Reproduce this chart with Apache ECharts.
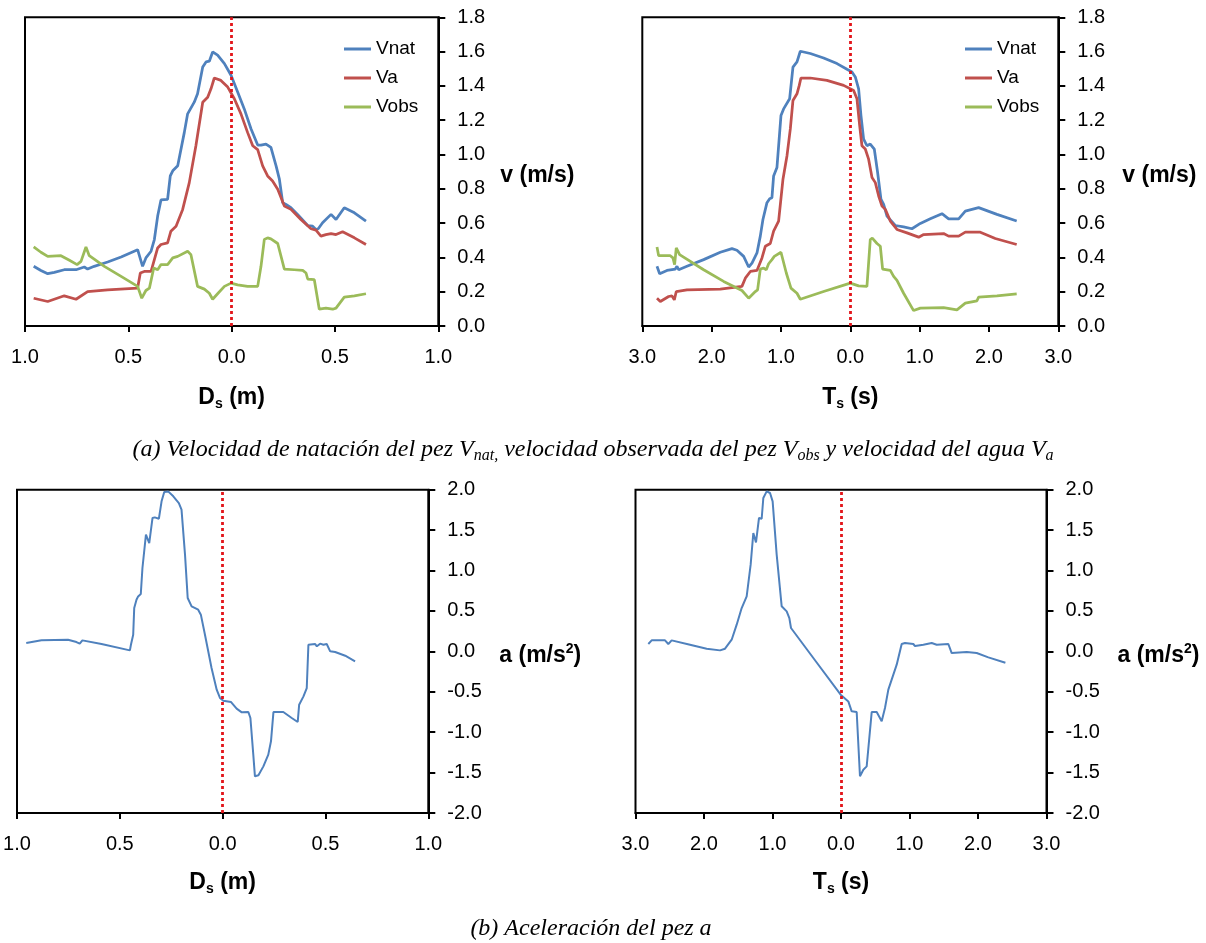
<!DOCTYPE html>
<html><head><meta charset="utf-8">
<script src="https://cdn.jsdelivr.net/npm/echarts@6/dist/echarts.min.js"></script>
<style>html,body{margin:0;padding:0;background:#fff}#c{width:1206px;height:943px}</style>
</head><body><div id="c"></div>
<script>
// ---- Data: top-left, distance Ds (m) vs velocity (m/s)
const dsVnat = [[-0.958,0.348],[-0.923,0.324],[-0.89,0.305],[-0.858,0.313],[-0.81,0.328],[-0.753,0.328],[-0.713,0.344],[-0.697,0.332],[-0.665,0.348],[-0.6,0.373],[-0.535,0.402],[-0.455,0.445],[-0.447,0.436],[-0.431,0.348],[-0.415,0.397],[-0.39,0.436],[-0.374,0.504],[-0.358,0.641],[-0.342,0.735],[-0.31,0.739],[-0.297,0.875],[-0.285,0.905],[-0.261,0.934],[-0.229,1.129],[-0.213,1.237],[-0.181,1.305],[-0.165,1.354],[-0.14,1.51],[-0.124,1.54],[-0.108,1.544],[-0.092,1.598],[-0.068,1.579],[-0.035,1.53],[-0.003,1.462],[0.029,1.364],[0.061,1.266],[0.094,1.149],[0.126,1.055],[0.142,1.055],[0.166,1.061],[0.19,1.041],[0.215,0.934],[0.231,0.856],[0.247,0.719],[0.263,0.709],[0.287,0.69],[0.319,0.651],[0.368,0.586],[0.392,0.582],[0.408,0.563],[0.419,0.567],[0.44,0.602],[0.481,0.651],[0.505,0.621],[0.545,0.69],[0.594,0.66],[0.65,0.612]];
const dsVa = [[-0.958,0.162],[-0.89,0.143],[-0.81,0.176],[-0.753,0.156],[-0.697,0.201],[-0.6,0.211],[-0.455,0.221],[-0.442,0.309],[-0.423,0.318],[-0.39,0.318],[-0.358,0.455],[-0.342,0.475],[-0.31,0.485],[-0.294,0.553],[-0.269,0.582],[-0.237,0.68],[-0.205,0.836],[-0.173,1.051],[-0.14,1.305],[-0.116,1.334],[-0.1,1.383],[-0.084,1.446],[-0.052,1.432],[-0.019,1.393],[0.013,1.325],[0.045,1.237],[0.077,1.129],[0.102,1.051],[0.126,1.028],[0.15,0.934],[0.174,0.875],[0.198,0.846],[0.223,0.797],[0.255,0.699],[0.287,0.68],[0.335,0.621],[0.384,0.567],[0.408,0.559],[0.432,0.524],[0.456,0.533],[0.481,0.539],[0.505,0.533],[0.537,0.549],[0.594,0.514],[0.65,0.475]];
const dsVobs = [[-0.958,0.461],[-0.923,0.43],[-0.89,0.406],[-0.826,0.41],[-0.785,0.383],[-0.748,0.358],[-0.729,0.377],[-0.705,0.461],[-0.689,0.41],[-0.616,0.348],[-0.535,0.289],[-0.455,0.231],[-0.435,0.162],[-0.415,0.207],[-0.398,0.221],[-0.377,0.338],[-0.358,0.328],[-0.342,0.358],[-0.31,0.358],[-0.285,0.397],[-0.261,0.406],[-0.213,0.436],[-0.197,0.416],[-0.165,0.231],[-0.132,0.215],[-0.108,0.191],[-0.092,0.156],[-0.068,0.188],[-0.035,0.231],[-0.003,0.25],[0.029,0.24],[0.077,0.231],[0.126,0.231],[0.142,0.348],[0.158,0.504],[0.174,0.514],[0.19,0.508],[0.223,0.481],[0.231,0.475],[0.255,0.332],[0.303,0.328],[0.344,0.324],[0.36,0.309],[0.368,0.274],[0.4,0.27],[0.424,0.098],[0.456,0.104],[0.489,0.098],[0.505,0.104],[0.545,0.168],[0.594,0.176],[0.65,0.188]];

// ---- Data: top-right, time Ts (s) vs velocity (m/s)
const tsVnat = [[-2.788,0.348],[-2.75,0.305],[-2.644,0.324],[-2.524,0.332],[-2.5,0.348],[-2.476,0.328],[-2.356,0.348],[-2.115,0.387],[-1.875,0.43],[-1.707,0.451],[-1.635,0.442],[-1.538,0.406],[-1.466,0.344],[-1.418,0.367],[-1.346,0.426],[-1.298,0.524],[-1.26,0.621],[-1.202,0.719],[-1.163,0.742],[-1.13,0.748],[-1.106,0.875],[-1.058,0.924],[-1.0,1.227],[-0.962,1.266],[-0.875,1.325],[-0.827,1.51],[-0.769,1.54],[-0.721,1.602],[-0.577,1.589],[-0.385,1.563],[-0.192,1.53],[-0.048,1.497],[0.024,1.481],[0.072,1.452],[0.12,1.383],[0.154,1.227],[0.192,1.09],[0.24,1.051],[0.288,1.061],[0.346,1.032],[0.394,0.895],[0.442,0.739],[0.481,0.709],[0.529,0.641],[0.649,0.586],[0.769,0.578],[0.889,0.567],[1.01,0.598],[1.154,0.625],[1.322,0.655],[1.418,0.625],[1.563,0.625],[1.659,0.67],[1.851,0.69],[2.115,0.651],[2.4,0.612]];
const tsVa = [[-2.788,0.162],[-2.74,0.143],[-2.62,0.172],[-2.572,0.176],[-2.538,0.152],[-2.51,0.201],[-2.356,0.211],[-1.875,0.215],[-1.563,0.231],[-1.514,0.279],[-1.442,0.318],[-1.346,0.324],[-1.274,0.397],[-1.226,0.465],[-1.154,0.481],[-1.106,0.553],[-1.034,0.612],[-0.971,0.856],[-0.913,0.993],[-0.865,1.149],[-0.827,1.315],[-0.769,1.354],[-0.736,1.403],[-0.712,1.446],[-0.577,1.446],[-0.337,1.432],[-0.096,1.403],[0.048,1.373],[0.096,1.325],[0.135,1.169],[0.168,1.051],[0.216,1.032],[0.264,0.973],[0.313,0.866],[0.361,0.836],[0.409,0.758],[0.457,0.699],[0.505,0.68],[0.577,0.612],[0.673,0.563],[0.817,0.543],[0.986,0.518],[1.058,0.533],[1.346,0.539],[1.418,0.524],[1.563,0.524],[1.659,0.547],[1.875,0.547],[2.091,0.51],[2.4,0.475]];
const tsVobs = [[-2.788,0.461],[-2.764,0.41],[-2.596,0.41],[-2.558,0.397],[-2.534,0.358],[-2.51,0.455],[-2.49,0.461],[-2.462,0.416],[-2.115,0.328],[-1.827,0.26],[-1.563,0.207],[-1.466,0.162],[-1.37,0.201],[-1.337,0.211],[-1.298,0.332],[-1.25,0.338],[-1.212,0.328],[-1.178,0.363],[-1.13,0.387],[-1.096,0.406],[-1.0,0.43],[-0.923,0.309],[-0.856,0.221],[-0.769,0.191],[-0.721,0.156],[-0.385,0.201],[0.0,0.25],[0.12,0.234],[0.24,0.231],[0.288,0.504],[0.317,0.512],[0.385,0.481],[0.433,0.465],[0.466,0.332],[0.577,0.324],[0.625,0.289],[0.673,0.266],[0.769,0.191],[0.913,0.09],[1.01,0.104],[1.346,0.107],[1.538,0.094],[1.659,0.133],[1.827,0.147],[1.851,0.168],[2.115,0.176],[2.4,0.188]];

// ---- Data: bottom-left, Ds (m) vs acceleration (m/s2)
const dsAcc = [[-0.955,0.103],[-0.881,0.136],[-0.752,0.144],[-0.711,0.115],[-0.695,0.095],[-0.682,0.136],[-0.589,0.091],[-0.451,0.012],[-0.446,0.082],[-0.435,0.206],[-0.43,0.536],[-0.419,0.639],[-0.411,0.68],[-0.398,0.709],[-0.39,1.031],[-0.373,1.443],[-0.367,1.452],[-0.357,1.34],[-0.341,1.65],[-0.33,1.658],[-0.31,1.641],[-0.297,1.856],[-0.284,1.971],[-0.265,1.979],[-0.24,1.918],[-0.213,1.835],[-0.2,1.753],[-0.183,1.196],[-0.17,0.66],[-0.151,0.557],[-0.119,0.515],[-0.106,0.454],[-0.086,0.206],[-0.054,-0.206],[-0.029,-0.474],[-0.013,-0.577],[0.003,-0.61],[0.041,-0.627],[0.068,-0.709],[0.093,-0.755],[0.125,-0.751],[0.135,-0.825],[0.149,-1.278],[0.157,-1.546],[0.174,-1.534],[0.198,-1.423],[0.222,-1.278],[0.235,-1.113],[0.247,-0.751],[0.295,-0.751],[0.336,-0.825],[0.365,-0.874],[0.372,-0.66],[0.393,-0.557],[0.409,-0.454],[0.417,0.082],[0.425,0.095],[0.45,0.091],[0.458,0.062],[0.474,0.095],[0.49,0.082],[0.506,0.091],[0.523,0.0],[0.547,-0.008],[0.596,-0.054],[0.644,-0.124]];

// ---- Data: bottom-right, Ts (s) vs acceleration (m/s2)
const tsAcc = [[-2.813,0.091],[-2.764,0.136],[-2.569,0.136],[-2.545,0.144],[-2.521,0.091],[-2.472,0.136],[-2.204,0.082],[-1.961,0.033],[-1.766,0.012],[-1.693,0.033],[-1.596,0.144],[-1.523,0.33],[-1.45,0.536],[-1.377,0.68],[-1.353,0.701],[-1.319,1.072],[-1.28,1.464],[-1.241,1.348],[-1.197,1.65],[-1.158,1.641],[-1.134,1.897],[-1.085,1.979],[-1.036,1.959],[-0.998,1.856],[-0.939,1.196],[-0.866,0.557],[-0.793,0.495],[-0.754,0.412],[-0.73,0.289],[-0.404,-0.082],[-0.005,-0.536],[0.107,-0.619],[0.156,-0.742],[0.229,-0.751],[0.277,-1.546],[0.326,-1.464],[0.375,-1.423],[0.448,-0.751],[0.521,-0.751],[0.594,-0.866],[0.642,-0.701],[0.691,-0.474],[0.813,-0.165],[0.886,0.091],[0.934,0.103],[1.056,0.091],[1.08,0.066],[1.202,0.082],[1.324,0.103],[1.397,0.082],[1.567,0.091],[1.616,-0.021],[1.835,-0.008],[1.981,-0.021],[2.151,-0.074],[2.4,-0.141]];

const seriesNames = ['Vnat','Va','Vobs'];
const colors = ['#4F81BD','#C0504D','#9BBB59'];

const FONT = "'Liberation Sans', Arial, sans-serif";
const SERIF = "'Liberation Serif', 'Times New Roman', serif";

const grids = [
  {left:25, top:17.3, width:413.3, height:308.7},
  {left:642.3, top:17.3, width:416, height:308.7},
  {left:17, top:489.7, width:411.3, height:323.3},
  {left:635.5, top:489.7, width:411, height:323.3}
].map(g => Object.assign({show:true, borderColor:'#000', borderWidth:2, backgroundColor:'transparent'}, g));

const subRich = {
  b: {fontSize:23, fontWeight:'bold', fontFamily:FONT, color:'#000', lineHeight:27},
  s: {fontSize:14, fontWeight:'bold', fontFamily:FONT, color:'#000', lineHeight:14, verticalAlign:'bottom'},
  p: {fontSize:14, fontWeight:'bold', fontFamily:FONT, color:'#000', lineHeight:14, verticalAlign:'top'}
};

function xAx(idx, min, max, interval, name, gap) {
  return {
    type:'value', gridIndex:idx, min, max, interval, position:'bottom',
    axisLine:{show:true, onZero:false, lineStyle:{color:'#000', width:2}},
    axisTick:{show:true, length:6, lineStyle:{color:'#000', width:2}},
    axisLabel:{margin:21, fontSize:20, color:'#000', fontFamily:FONT,
      formatter: v => Math.abs(v).toFixed(1)},
    splitLine:{show:false},
    name, nameLocation:'middle', nameGap:gap,
    nameTextStyle:{rich:subRich, fontSize:23, fontWeight:'bold', fontFamily:FONT, color:'#000'}
  };
}
function yAx(idx, min, max, interval, name, gap) {
  return {
    type:'value', gridIndex:idx, min, max, interval, position:'right',
    axisLine:{show:true, onZero:false, lineStyle:{color:'#000', width:2}},
    axisTick:{show:true, length:7, lineStyle:{color:'#000', width:2}},
    axisLabel:{margin:19, fontSize:20, color:'#000', fontFamily:FONT,
      formatter: v => v.toFixed(1)},
    splitLine:{show:false},
    name, nameLocation:'middle', nameRotate:0, nameGap:gap,
    nameTextStyle:{rich:subRich, fontSize:23, fontWeight:'bold', fontFamily:FONT, color:'#000', padding:[8,0,0,0]}
  };
}

const refLine = {
  silent:true, symbol:['none','none'], label:{show:false}, animation:false,
  lineStyle:{color:'#E3161B', type:[3,3], width:2.8},
  data:[{xAxis:0}]
};

function lineSeries(name, data, idx, color, width, withRef) {
  const s = {
    name, type:'line', data, xAxisIndex:idx, yAxisIndex:idx,
    symbol:'none', showSymbol:false, smooth:false,
    lineStyle:{color, width}, itemStyle:{color}, z:2
  };
  if (withRef) s.markLine = refLine;
  return s;
}

function legendAt(left) {
  return {data:seriesNames.map(n => ({name:n, icon:'rect'})), orient:'vertical', left, top:34,
    itemWidth:27, itemHeight:3, itemGap:9, selectedMode:false,
    textStyle:{fontSize:19, color:'#000', fontFamily:FONT, lineHeight:20}};
}

const option = {
  animation:false,
  textStyle:{fontFamily:FONT},
  grid: grids,
  xAxis: [
    xAx(0, -1, 1, 0.5, '{b|D}{s|s}{b| (m)}', 58),
    xAx(1, -3, 3, 1, '{b|T}{s|s}{b| (s)}', 58),
    xAx(2, -1, 1, 0.5, '{b|D}{s|s}{b| (m)}', 56),
    xAx(3, -3, 3, 1, '{b|T}{s|s}{b| (s)}', 56)
  ],
  yAxis: [
    yAx(0, 0, 1.8, 0.2, '{b|v (m/s)}', 62),
    yAx(1, 0, 1.8, 0.2, '{b|v (m/s)}', 64),
    yAx(2, -2, 2, 0.5, '{b|a (m/s}{p|2}{b|)}', 71),
    yAx(3, -2, 2, 0.5, '{b|a (m/s}{p|2}{b|)}', 71)
  ],
  legend: [legendAt(339), legendAt(960)],
  series: [
    lineSeries('Vnat', dsVnat, 0, colors[0], 2.75, true),
    lineSeries('Va', dsVa, 0, colors[1], 2.75, false),
    lineSeries('Vobs', dsVobs, 0, colors[2], 2.75, false),
    lineSeries('Vnat', tsVnat, 1, colors[0], 2.75, true),
    lineSeries('Va', tsVa, 1, colors[1], 2.75, false),
    lineSeries('Vobs', tsVobs, 1, colors[2], 2.75, false),
    lineSeries('a', dsAcc, 2, colors[0], 2, true),
    lineSeries('a', tsAcc, 3, colors[0], 2, true)
  ],
  graphic: [
    {type:'text', x:593, y:450, silent:true,
     style:{text:'(a) Velocidad de natación del pez V{s|nat,} velocidad observada del pez V{s|obs} y velocidad del agua V{s|a}',
       align:'center', verticalAlign:'middle',
       fontFamily:SERIF, fontStyle:'italic', fontSize:24, fill:'#000', lineHeight:28,
       rich:{s:{fontFamily:SERIF, fontStyle:'italic', fontSize:16, fill:'#000', lineHeight:16, verticalAlign:'bottom'}}}},
    {type:'text', x:591, y:929, silent:true,
     style:{text:'(b) Aceleración del pez a', align:'center', verticalAlign:'middle',
       fontFamily:SERIF, fontStyle:'italic', fontSize:24, fill:'#000', lineHeight:28}}
  ]
};

const chart = echarts.init(document.getElementById('c'), null, {renderer:'canvas'});
chart.setOption(option);
</script>
</body></html>
